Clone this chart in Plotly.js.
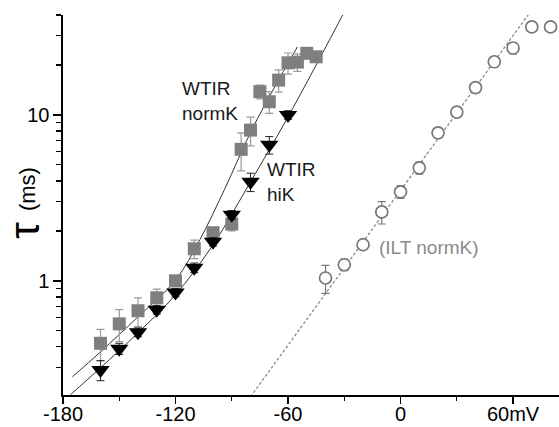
<!DOCTYPE html>
<html>
<head>
<meta charset="utf-8">
<script src="https://cdn.plot.ly/plotly-3.0.1.min.js"></script>
<style>html,body{margin:0;padding:0;background:#fff;}#chart{width:559px;height:427px;}</style>
</head>
<body>
<div id="chart"></div>
<script>
// WTIR normK (grey squares)
var normK_x = [-160,-150,-140,-130,-120,-110,-100,-90,-85,-80,-75,-70,-65,-60,-55,-50,-45];
var normK_y = [0.42,0.55,0.66,0.79,1.0,1.56,1.95,2.2,6.2,8.1,13.8,12.0,16.2,20.6,20.8,23.5,22.4];
var normK_err = [0.09,0.12,0.13,0.1,0.07,0.2,0.12,0.2,1.6,1.6,1.3,1.8,2.5,3,2.5,1.5,1.5];
// WTIR hiK (black triangles)
var hiK_x = [-160,-150,-140,-130,-120,-110,-100,-90,-80,-70,-60];
var hiK_y = [0.29,0.39,0.49,0.67,0.85,1.2,1.72,2.5,3.95,6.6,10.0];
var hiK_err = [0.04,0.03,0.03,0.04,0.05,0.08,0.1,0.15,0.5,0.8,0.6];
// ILT normK (open circles)
var ilt_x = [-40,-30,-20,-10,0,10,20,30,40,50,60,70,80];
var ilt_y = [1.04,1.25,1.65,2.6,3.44,4.8,7.8,10.4,14.6,20.9,25.3,33.9,33.9];
var ilt_err = [0.2,0.1,0.05,0.4,0.3,0.4,0.5,0.7,1,1.5,2,0,0];
// fit curves
var normFit_x = [-175,-160,-140,-120,-107,-94,-78,-55];
var normFit_y = [0.264,0.373,0.607,1.01,1.77,3.53,8.7,25.7];
var hiFit_x = [-176,-160,-140,-120,-100,-80,-60,-30];
var hiFit_y = [0.206,0.299,0.486,0.824,1.65,3.95,9.73,41.7];
var iltFit_x = [-80,70];
var iltFit_y = [0.2,43];
// ticks
var xMajor = [-180,-120,-60,0,60];
var xMajorText = ['-180','-120','-60','0','60mV'];
var xMinor = [-150,-90,-30,30];
var yMajor = [1,10];
var yMajorText = ['1','10'];
var yMinor = [0.3,0.4,0.5,0.6,0.7,0.8,0.9,2,3,4,5,6,7,8,9,20,30,40];

var FONT = 'Arial, "Liberation Sans", sans-serif';

var traces = [
  {x: iltFit_x, y: iltFit_y, mode: 'lines', line: {color: '#8c8c8c', width: 1.3, dash: '3px,2px'}, hoverinfo: 'skip'},
  {x: normFit_x, y: normFit_y, mode: 'lines', line: {color: '#333', width: 1, shape: 'spline'}, hoverinfo: 'skip'},
  {x: hiFit_x, y: hiFit_y, mode: 'lines', line: {color: '#333', width: 1, shape: 'spline'}, hoverinfo: 'skip'},
  {x: normK_x, y: normK_y, mode: 'markers',
   marker: {symbol: 'square', size: 13, color: '#7f7f7f'},
   error_y: {type: 'data', array: normK_err, visible: true, color: '#9a9a9a', thickness: 1.2, width: 4}},
  {x: hiK_x, y: hiK_y, mode: 'markers',
   marker: {symbol: 'triangle-down', size: 16, color: '#000'},
   error_y: {type: 'data', array: hiK_err, visible: true, color: '#222', thickness: 1, width: 4}},
  {x: ilt_x, y: ilt_y, mode: 'markers',
   marker: {symbol: 'circle', size: 12, color: '#fff', line: {width: 1.7, color: '#777'}},
   error_y: {type: 'data', array: ilt_err, visible: true, color: '#777', thickness: 1.2, width: 4}}
];

var layout = {
  width: 559, height: 427,
  margin: {l: 63, r: 0, t: 15, b: 32},
  paper_bgcolor: '#fff', plot_bgcolor: '#fff',
  showlegend: false,
  font: {family: FONT, size: 20, color: '#000'},
  xaxis: {
    range: [-180, 84.5], showgrid: false, zeroline: false,
    showline: true, linecolor: '#000', linewidth: 1.6,
    tickmode: 'array', tickvals: xMajor, ticktext: xMajorText,
    ticks: 'outside', ticklen: 7, tickwidth: 1.5, tickcolor: '#000',
    ticklabelstandoff: -7,
    tickfont: {family: FONT, size: 20, color: '#000'},
    minor: {tickmode: 'array', tickvals: xMinor, ticks: 'outside', ticklen: 4, tickwidth: 1.3, tickcolor: '#000', showgrid: false}
  },
  yaxis: {
    type: 'log', range: [Math.log10(0.205), Math.log10(40)], showgrid: false, zeroline: false,
    showline: true, linecolor: '#000', linewidth: 1.6,
    tickmode: 'array', tickvals: yMajor, ticktext: yMajorText,
    ticks: 'outside', ticklen: 8, tickwidth: 1.5, tickcolor: '#000',
    tickfont: {family: FONT, size: 20, color: '#000'},
    minor: {tickmode: 'array', tickvals: yMinor, ticks: 'outside', ticklen: 5, tickwidth: 1.3, tickcolor: '#000', showgrid: false}
  },
  annotations: [
    {xref: 'paper', yref: 'paper', x: -0.0726, y: 0.542, textangle: -90, showarrow: false,
     xanchor: 'center', yanchor: 'middle',
     text: '(ms)', font: {family: FONT, size: 22, color: '#000'}},
    {xref: 'paper', yref: 'paper', x: -0.0766, y: 0.432, textangle: -90, showarrow: false,
     xanchor: 'center', yanchor: 'middle',
     text: 'τ', font: {family: FONT, size: 42, color: '#000'}},
    {x: -117.6, y: Math.log10(12.1), xref: 'x', yref: 'y', showarrow: false, xanchor: 'left', yanchor: 'middle', align: 'left',
     text: 'WTIR<br>normK', font: {family: FONT, size: 19, color: '#1a1a1a'}},
    {x: -72.3, y: Math.log10(3.95), xref: 'x', yref: 'y', showarrow: false, xanchor: 'left', yanchor: 'middle', align: 'left',
     text: 'WTIR<br>hiK', font: {family: FONT, size: 19, color: '#1a1a1a'}},
    {x: -12.5, y: Math.log10(1.58), xref: 'x', yref: 'y', showarrow: false, xanchor: 'left', yanchor: 'middle', align: 'left',
     text: '(ILT normK)', font: {family: FONT, size: 19, color: '#8a8a8a'}}
  ]
};

Plotly.newPlot('chart', traces, layout, {staticPlot: true, displayModeBar: false});
</script>
</body>
</html>
